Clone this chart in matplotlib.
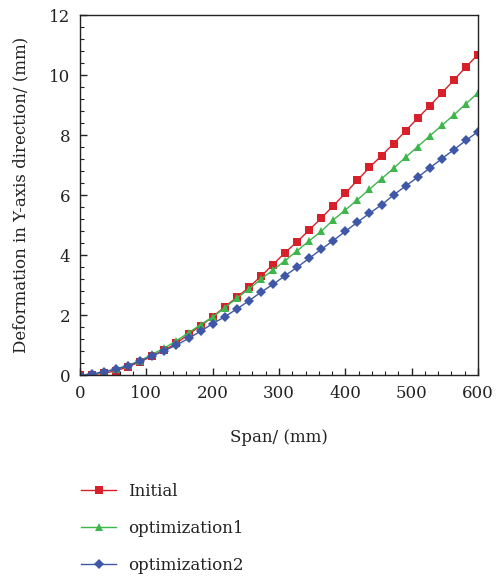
import numpy as np
import matplotlib.pyplot as plt
from matplotlib.ticker import MultipleLocator

plt.rcParams['font.family'] = ['DejaVu Serif']

# span positions (mm)
span = np.linspace(0, 600, 34)

# deformation in Y-axis direction (mm)
initial = [0.0, 0.01, 0.06, 0.14, 0.28, 0.44, 0.64, 0.83, 1.06, 1.36,
           1.64, 1.94, 2.27, 2.59, 2.92, 3.29, 3.68, 4.08, 4.44, 4.83,
           5.23, 5.64, 6.06, 6.49, 6.92, 7.31, 7.71, 8.14, 8.56, 8.97,
           9.40, 9.83, 10.27, 10.68]
optimization1 = [0.0, 0.02, 0.10, 0.20, 0.33, 0.48, 0.69, 0.90, 1.14, 1.41,
                 1.68, 1.93, 2.24, 2.56, 2.86, 3.19, 3.50, 3.81, 4.14, 4.47,
                 4.79, 5.17, 5.50, 5.84, 6.19, 6.54, 6.89, 7.26, 7.61, 7.97,
                 8.32, 8.67, 9.04, 9.41]
optimization2 = [0.0, 0.03, 0.11, 0.20, 0.30, 0.46, 0.64, 0.81, 1.00, 1.22,
                 1.46, 1.71, 1.94, 2.20, 2.47, 2.76, 3.02, 3.31, 3.59, 3.89,
                 4.19, 4.48, 4.79, 5.09, 5.39, 5.67, 6.00, 6.30, 6.59, 6.90,
                 7.21, 7.51, 7.82, 8.11]

labels = ['Initial', 'optimization1', 'optimization2']
colors = ['#d7202a', '#3db64b', '#3f57a7']
markers = ['s', '^', 'D']
sizes = [6.0, 6.2, 5.2]

fig = plt.figure(figsize=(4.99, 5.77), dpi=100)
ax = fig.add_axes([80 / 499, 1 - 375 / 577, 398 / 499, 360 / 577])

for ys, lab, c, m, ms in zip([initial, optimization1, optimization2], labels, colors, markers, sizes):
    ax.plot(span, ys, color=c, marker=m, markersize=ms, markeredgewidth=0, lw=1.0, label=lab)

ax.set_xlim(0, 600)
ax.set_ylim(0, 12)
ax.xaxis.set_major_locator(MultipleLocator(100))
ax.xaxis.set_minor_locator(MultipleLocator(20))
ax.yaxis.set_major_locator(MultipleLocator(2))
ax.yaxis.set_minor_locator(MultipleLocator(0.4))
ax.tick_params(which='both', direction='in', top=False, right=False,
               labelsize=12, colors='#222222', pad=7)
ax.tick_params(which='major', length=5, width=1)
ax.tick_params(which='minor', length=3, width=0.8)
for s in ax.spines.values():
    s.set_color('#222222')
    s.set_linewidth(1.0)

ax.set_xlabel('Span/ (mm)', fontsize=12, color='#222222', labelpad=20)
ax.set_ylabel('Deformation in Y-axis direction/ (mm)', fontsize=12, color='#222222', labelpad=14)

handles, labs = ax.get_legend_handles_labels()
fig.legend(handles, labs, loc='upper left', bbox_to_anchor=(66 / 499, 1 - 468 / 577),
           frameon=False, fontsize=12, handlelength=2.1, labelspacing=1.2,
           handletextpad=0.7, labelcolor='#222222')

fig.savefig('out.png', dpi=100)
